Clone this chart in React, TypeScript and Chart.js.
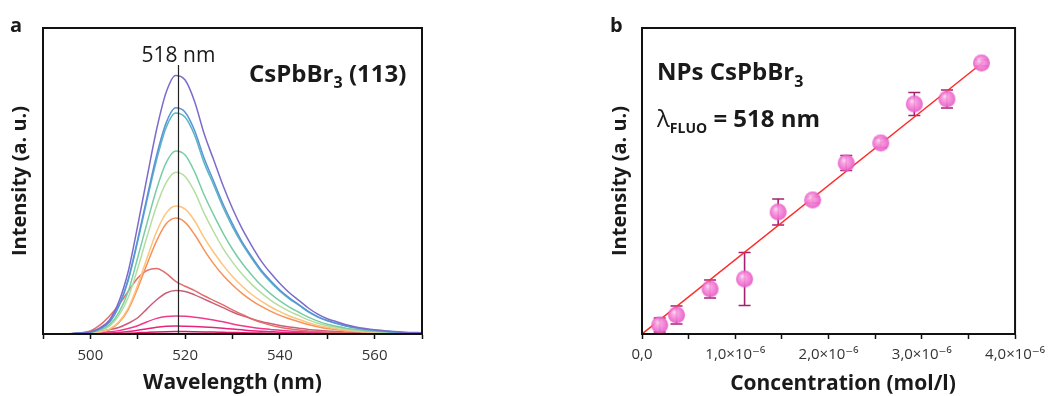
import React, { useEffect, useRef } from 'react';
import { Chart, registerables } from 'chart.js';

Chart.register(...registerables);

const FONT = "'Open Sans', 'DejaVu Sans', sans-serif";

// ---------- Panel a : emission spectra ----------
const wavelengths = [
  490, 492, 494, 496, 498, 500, 502, 504, 506, 508,
  510, 512, 514, 516, 518, 520, 522, 524, 526, 528,
  530, 532, 534, 536, 538, 540, 542, 544, 546, 548,
  550, 552, 554, 556, 558, 560, 562, 564, 566, 568, 570,
];
const specPurple = [0, 0, 0, 0.1, 0.3, 0.7, 2.0, 4.5, 10.5, 20.5, 35.5, 51.5, 67, 79, 84.5, 83, 76, 65.5, 57, 48.5, 41, 34.5, 29, 24, 20, 16.5, 13.5, 11, 8.5, 6.5, 5, 4, 3, 2.3, 1.8, 1.4, 1.1, 0.8, 0.6, 0.5, 0.4];
const specBlue = [0, 0, 0, 0.1, 0.3, 0.6, 1.7, 3.9, 9.2, 18, 31, 45, 58.5, 69, 73.9, 72.5, 66.5, 57.5, 50, 42.5, 36, 30.2, 25.4, 21, 17.5, 14.4, 11.8, 9.6, 7.4, 5.7, 4.4, 3.5, 2.6, 2, 1.6, 1.2, 1, 0.7, 0.5, 0.4, 0.35];
const specTeal = [0, 0, 0, 0.1, 0.3, 0.6, 1.7, 3.8, 9, 17.5, 30.3, 44, 57, 67.5, 72.2, 70.8, 65, 56, 48.8, 41.4, 35, 29.5, 24.8, 20.5, 17, 14, 11.5, 9.4, 7.2, 5.5, 4.3, 3.4, 2.6, 2, 1.5, 1.2, 0.9, 0.7, 0.5, 0.4, 0.3];
const specGreen = [0, 0, 0, 0.1, 0.2, 0.5, 1.3, 3, 7, 14, 25, 36.5, 47.5, 56, 59.8, 58.5, 53, 45.5, 39, 33, 27.7, 23.2, 19.4, 16, 13.2, 10.8, 8.8, 7.1, 5.5, 4.2, 3.2, 2.5, 1.9, 1.5, 1.1, 0.9, 0.7, 0.5, 0.4, 0.3, 0.2];
const specLightGreen = [0, 0, 0, 0.1, 0.2, 0.4, 1.1, 2.5, 6, 12, 21.5, 32, 42, 49.5, 52.9, 51.5, 46.5, 39.5, 33.5, 28, 23.5, 19.6, 16.3, 13.5, 11.1, 9.1, 7.4, 6, 4.6, 3.5, 2.7, 2.1, 1.6, 1.2, 0.9, 0.7, 0.6, 0.4, 0.3, 0.25, 0.2];
const specYellow = [0, 0, 0, 0, 0.1, 0.3, 0.7, 1.6, 4, 8.5, 16, 25, 33.5, 39.5, 41.8, 40.8, 37, 31.5, 26.8, 22.5, 18.8, 15.7, 13, 10.8, 8.9, 7.3, 5.9, 4.8, 3.7, 2.8, 2.2, 1.7, 1.3, 1, 0.7, 0.6, 0.5, 0.35, 0.25, 0.2, 0.15];
const specOrange = [0, 0, 0, 0, 0.1, 0.3, 0.6, 1.5, 3.7, 8, 15, 23, 30.5, 36, 37.9, 36.5, 32.5, 27.5, 23, 19.2, 16, 13.3, 11, 9.1, 7.5, 6.1, 5, 4, 3.1, 2.4, 1.8, 1.4, 1.1, 0.8, 0.6, 0.5, 0.4, 0.3, 0.2, 0.15, 0.1];
const specRed = [0, 0, 0.05, 0.15, 0.4, 1.0, 2.9, 5.8, 9.5, 14, 18.3, 20.8, 21.4, 19.8, 17.2, 15.6, 14.2, 12.5, 11, 9.5, 7.9, 6.4, 5, 3.8, 2.9, 2.2, 1.7, 1.3, 1, 0.8, 0.6, 0.5, 0.4, 0.3, 0.25, 0.2, 0.15, 0.1, 0.1, 0.1, 0.1];
const specRose = [0, 0, 0.05, 0.1, 0.3, 0.6, 0.9, 1.4, 2.1, 3.5, 5.3, 8.3, 11.2, 13.4, 14.2, 13.9, 12.8, 11.4, 10, 8.6, 7.2, 6, 5, 4.1, 3.4, 2.8, 2.3, 1.9, 1.5, 1.2, 1, 0.8, 0.6, 0.5, 0.4, 0.3, 0.25, 0.2, 0.15, 0.1, 0.1];
const specPink = [0, 0, 0, 0.05, 0.1, 0.2, 0.4, 0.7, 1.1, 1.8, 2.7, 4, 5.1, 5.7, 5.9, 5.8, 5.5, 5.1, 4.6, 4, 3.3, 2.7, 2.2, 1.8, 1.5, 1.2, 1, 0.8, 0.65, 0.5, 0.4, 0.35, 0.3, 0.25, 0.2, 0.15, 0.1, 0.1, 0.1, 0.05, 0.05];
const specPink2 = [0, 0, 0, 0, 0.05, 0.1, 0.2, 0.3, 0.5, 0.8, 1.2, 1.7, 2.2, 2.5, 2.6, 2.55, 2.45, 2.3, 2.1, 1.85, 1.6, 1.35, 1.1, 0.9, 0.75, 0.6, 0.5, 0.4, 0.33, 0.27, 0.22, 0.18, 0.15, 0.12, 0.1, 0.08, 0.06, 0.05, 0.04, 0.03, 0.03];
const specPink3 = [0, 0, 0, 0, 0, 0.03, 0.06, 0.1, 0.15, 0.25, 0.38, 0.52, 0.65, 0.75, 0.8, 0.78, 0.74, 0.69, 0.62, 0.55, 0.48, 0.41, 0.35, 0.29, 0.24, 0.2, 0.16, 0.13, 0.1, 0.08, 0.07, 0.06, 0.05, 0.04, 0.03, 0.03, 0.02, 0.02, 0.02, 0.01, 0.01];

const spectra = [specPurple, specBlue, specTeal, specGreen, specLightGreen, specYellow, specOrange, specRed, specRose, specPink, specPink2, specPink3];
const spectraColors = ['#7d6bcb', '#5a93d6', '#5ab6c4', '#78cda6', '#b4dea0', '#fdc47c', '#f7925a', '#e26d6a', '#c95f78', '#f03a8c', '#e8237c', '#e0146a'];

const peakLineX = [518.6, 518.6];
const peakLineY = [0, 87.9];
const xTicksA = [500, 520, 540, 560];

// ---------- Panel b : calibration ----------
const concentration = [0.19, 0.37, 0.73, 1.10, 1.46, 1.83, 2.19, 2.56, 2.92, 3.27, 3.64]; // x 10^-6 mol/l
const intensity = [90, 190, 450, 550, 1220, 1340, 1710, 1910, 2300, 2350, 2710];
const intensityErr = [70, 90, 90, 265, 130, 30, 75, 45, 115, 90, 30];
const fitX = [0, 3.66];
const fitY = [0, 2720];
const xTicksB = [0, 1, 2, 3, 4];

function makeSphere(r: number): HTMLCanvasElement {
  const s = Math.ceil(r * 2) + 2;
  const c = document.createElement('canvas');
  c.width = s;
  c.height = s;
  const g = c.getContext('2d')!;
  const cx = s / 2, cy = s / 2;
  const grad = g.createRadialGradient(cx - r * 0.3, cy - r * 0.35, r * 0.05, cx, cy, r);
  grad.addColorStop(0, '#fcd6f1');
  grad.addColorStop(0.25, '#f8a2e2');
  grad.addColorStop(0.7, '#f276d4');
  grad.addColorStop(1, '#e35cc2');
  g.globalAlpha = 0.92;
  g.fillStyle = grad;
  g.beginPath();
  g.arc(cx, cy, r, 0, Math.PI * 2);
  g.fill();
  return c;
}

const framePlugin = {
  id: 'frame',
  afterDatasetsDraw(chart: any) {
    const { ctx, chartArea } = chart;
    ctx.save();
    ctx.strokeStyle = '#111';
    ctx.lineWidth = 2;
    ctx.strokeRect(chartArea.left, chartArea.top, chartArea.right - chartArea.left, chartArea.bottom - chartArea.top);
    ctx.restore();
  },
};

function drawSubText(ctx: CanvasRenderingContext2D, x: number, y: number, parts: { t: string; font: string; dy: number }[]) {
  let cx = x;
  for (const p of parts) {
    ctx.font = p.font;
    ctx.fillText(p.t, cx, y + p.dy);
    cx += ctx.measureText(p.t).width;
  }
}

const textsAPlugin = {
  id: 'textsA',
  afterDraw(chart: any) {
    const ctx = chart.ctx as CanvasRenderingContext2D;
    ctx.save();
    ctx.fillStyle = '#1a1a1a';
    ctx.textBaseline = 'alphabetic';
    ctx.textAlign = 'left';
    ctx.font = `bold 20px ${FONT}`;
    ctx.fillText('a', 10, 32);
    ctx.textAlign = 'center';
    ctx.font = `21px ${FONT}`;
    const xs = chart.scales.x;
    ctx.fillText('518 nm', xs.getPixelForValue(peakLineX[0]), 62);
    ctx.textAlign = 'left';
    drawSubText(ctx, 249, 82, [
      { t: 'CsPbBr', font: `bold 24px ${FONT}`, dy: 0 },
      { t: '3', font: `bold 16px ${FONT}`, dy: 6 },
      { t: ' (113)', font: `bold 24px ${FONT}`, dy: 0 },
    ]);
    ctx.restore();
  },
};

const errorBarPlugin = {
  id: 'errorBars',
  beforeDatasetsDraw(chart: any) {
    const { ctx } = chart;
    const xs = chart.scales.x, ys = chart.scales.y;
    ctx.save();
    ctx.strokeStyle = '#a2226f';
    ctx.lineWidth = 1.6;
    concentration.forEach((c, i) => {
      const x = xs.getPixelForValue(c);
      const y1 = ys.getPixelForValue(intensity[i] + intensityErr[i]);
      const y2 = ys.getPixelForValue(intensity[i] - intensityErr[i]);
      ctx.beginPath();
      ctx.moveTo(x, y1);
      ctx.lineTo(x, y2);
      ctx.moveTo(x - 6, y1);
      ctx.lineTo(x + 6, y1);
      ctx.moveTo(x - 6, y2);
      ctx.lineTo(x + 6, y2);
      ctx.stroke();
    });
    ctx.restore();
  },
};

const textsBPlugin = {
  id: 'textsB',
  afterDraw(chart: any) {
    const ctx = chart.ctx as CanvasRenderingContext2D;
    ctx.save();
    ctx.fillStyle = '#1a1a1a';
    ctx.textBaseline = 'alphabetic';
    ctx.textAlign = 'left';
    ctx.font = `bold 20px ${FONT}`;
    ctx.fillText('b', 10, 32);
    drawSubText(ctx, 57, 80, [
      { t: 'NPs CsPbBr', font: `bold 24px ${FONT}`, dy: 0 },
      { t: '3', font: `bold 16px ${FONT}`, dy: 7 },
    ]);
    drawSubText(ctx, 57, 127, [
      { t: 'λ', font: `24px ${FONT}`, dy: 0 },
      { t: 'FLUO', font: `bold 14px ${FONT}`, dy: 6 },
      { t: ' = 518 nm', font: `bold 24px ${FONT}`, dy: 0 },
    ]);
    ctx.textAlign = 'center';
    ctx.textBaseline = 'middle';
    ctx.font = `bold 21px ${FONT}`;
    ctx.fillText('Concentration (mol/l)', 243, 384);
    ctx.restore();
  },
};

function configA(): any {
  const datasets: any[] = [
    {
      type: 'line',
      data: peakLineX.map((x, i) => ({ x, y: peakLineY[i] })),
      borderColor: '#222',
      borderWidth: 1.2,
      pointRadius: 0,
      clip: false,
    },
  ];
  spectra.forEach((arr, k) => {
    datasets.push({
      type: 'line',
      data: wavelengths.map((w, i) => ({ x: w, y: arr[i] })),
      borderColor: spectraColors[k],
      borderWidth: 1.5,
      pointRadius: 0,
      cubicInterpolationMode: 'monotone',
    });
  });
  return {
    type: 'line',
    data: { datasets },
    plugins: [framePlugin, textsAPlugin],
    options: {
      animation: false,
      responsive: false,
      maintainAspectRatio: false,
      layout: { padding: { left: 0, top: 28, right: 178, bottom: 0 } },
      plugins: { legend: { display: false }, tooltip: { enabled: false } },
      scales: {
        x: {
          type: 'linear',
          min: 490,
          max: 570,
          ticks: {
            stepSize: 10,
            autoSkip: false,
            maxRotation: 0,
            padding: 8,
            color: '#333',
            font: { family: FONT, size: 15 },
            callback: (v: number) => (xTicksA.includes(v) ? String(v) : ''),
          },
          grid: { display: true, drawOnChartArea: false, drawTicks: true, tickLength: 5, tickColor: '#111', tickWidth: 1.5 },
          border: { display: true, color: '#111', width: 2 },
          title: { display: true, text: 'Wavelength (nm)', color: '#1a1a1a', font: { family: FONT, size: 21, weight: 'bold' }, padding: { top: 0, bottom: 0 } },
          afterFit: (s: any) => { s.height = 62; },
        },
        y: {
          min: 0,
          max: 100,
          ticks: { display: false },
          grid: { display: false },
          border: { display: true, color: '#111', width: 2 },
          title: { display: true, text: 'Intensity (a. u.)', color: '#1a1a1a', font: { family: FONT, size: 20, weight: 'bold' }, padding: { top: 8, bottom: 0 } },
          afterFit: (s: any) => { s.width = 43; },
        },
      },
    },
  };
}

function configB(): any {
  const sphere = makeSphere(8.5);
  return {
    type: 'scatter',
    data: {
      datasets: [
        {
          type: 'scatter',
          data: concentration.map((c, i) => ({ x: c, y: intensity[i] })),
          pointStyle: sphere,
          pointRadius: 8.5,
          clip: false,
        },
        {
          type: 'line',
          data: fitX.map((x, i) => ({ x, y: fitY[i] })),
          borderColor: '#ff2b2b',
          borderWidth: 1.5,
          pointRadius: 0,
        },
      ],
    },
    plugins: [errorBarPlugin, framePlugin, textsBPlugin],
    options: {
      animation: false,
      responsive: false,
      maintainAspectRatio: false,
      layout: { padding: { left: 0, top: 28, right: 30, bottom: 0 } },
      plugins: { legend: { display: false }, tooltip: { enabled: false } },
      scales: {
        x: {
          type: 'linear',
          min: 0,
          max: 4,
          ticks: {
            stepSize: 0.5,
            autoSkip: false,
            maxRotation: 0,
            padding: 7,
            color: '#333',
            font: { family: FONT, size: 15 },
            callback: (v: number) => {
              if (!xTicksB.includes(v)) return '';
              if (v === 0) return '0,0';
              return `${v},0×10⁻⁶`;
            },
          },
          grid: { display: true, drawOnChartArea: false, drawTicks: true, tickLength: 5, tickColor: '#111', tickWidth: 1.5 },
          border: { display: true, color: '#111', width: 2 },
          title: { display: false },
          afterFit: (s: any) => { s.height = 62; },
        },
        y: {
          min: 0,
          max: 3060,
          ticks: { display: false },
          grid: { display: false },
          border: { display: true, color: '#111', width: 2 },
          title: { display: true, text: 'Intensity (a. u.)', color: '#1a1a1a', font: { family: FONT, size: 20, weight: 'bold' }, padding: { top: 8, bottom: 0 } },
          afterFit: (s: any) => { s.width = 42; },
        },
      },
    },
  };
}

export default function App() {
  const aRef = useRef<HTMLCanvasElement>(null);
  const bRef = useRef<HTMLCanvasElement>(null);
  useEffect(() => {
    const ca = new Chart(aRef.current!, configA());
    const cb = new Chart(bRef.current!, configB());
    return () => {
      ca.destroy();
      cb.destroy();
    };
  }, []);
  return (
    <div style={{ position: 'absolute', left: 0, top: 0, width: 1052, height: 396, background: '#fff', overflow: 'hidden' }}>
      <canvas ref={aRef} width={600} height={396} style={{ position: 'absolute', left: 0, top: 0, width: 600, height: 396 }} />
      <canvas ref={bRef} width={452} height={396} style={{ position: 'absolute', left: 600, top: 0, width: 452, height: 396 }} />
    </div>
  );
}
